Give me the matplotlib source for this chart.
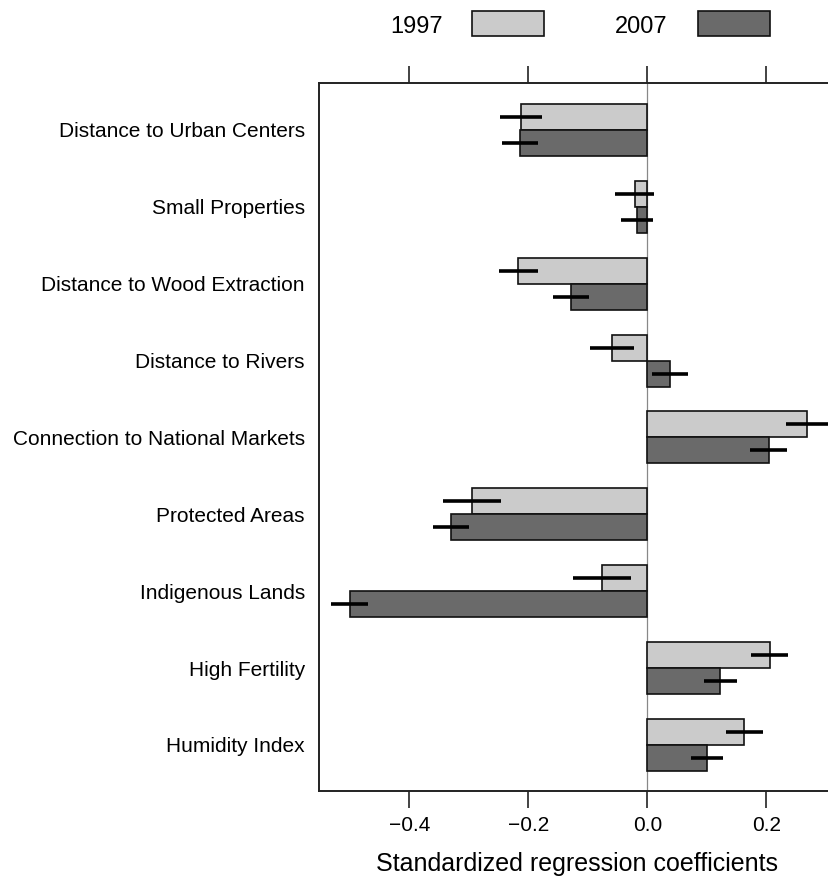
import numpy as np
import matplotlib
matplotlib.use('Agg')
import matplotlib.pyplot as plt
from matplotlib.patches import Rectangle

plt.rcParams['font.family'] = ['Liberation Sans', 'DejaVu Sans']

variables = ['Distance to Urban Centers', 'Small Properties', 'Distance to Wood Extraction',
             'Distance to Rivers', 'Connection to National Markets', 'Protected Areas',
             'Indigenous Lands', 'High Fertility', 'Humidity Index']
coef_1997 = [-0.212, -0.021, -0.217, -0.060, 0.268, -0.295, -0.076, 0.206, 0.163]
err_1997 = [0.035, 0.033, 0.033, 0.037, 0.035, 0.049, 0.049, 0.031, 0.031]
coef_2007 = [-0.214, -0.017, -0.128, 0.038, 0.204, -0.330, -0.500, 0.123, 0.101]
err_2007 = [0.031, 0.027, 0.030, 0.030, 0.031, 0.031, 0.031, 0.027, 0.027]

light = '#cbcbcb'
dark = '#6a6a6a'
W, H = 829, 876

fig = plt.figure(figsize=(W / 100, H / 100), dpi=100)
ax = fig.add_axes([318.7 / W, 1 - 791 / H, (835 - 318.7) / W, (791 - 83) / H])

y = np.arange(len(variables))
h = 0.338
ax.barh(y - h / 2, coef_1997, height=h, color=light, edgecolor='#111111', linewidth=1.2, zorder=2)
ax.barh(y + h / 2, coef_2007, height=h, color=dark, edgecolor='#111111', linewidth=1.2, zorder=2)
ax.errorbar(coef_1997, y - h / 2, xerr=err_1997, fmt='none', ecolor='black', elinewidth=2.6, capsize=0, zorder=3)
ax.errorbar(coef_2007, y + h / 2, xerr=err_2007, fmt='none', ecolor='black', elinewidth=2.6, capsize=0, zorder=3)
ax.axvline(0, color='#888888', linewidth=0.9, zorder=1)

ax.set_xlim(-0.5523, 0.3155)
ax.set_ylim(8.6, -0.611)
ax.set_yticks(y)
ax.set_yticklabels(variables, fontsize=15)
ax.tick_params(axis='y', length=0, pad=10)
ax.set_xticks([-0.4, -0.2, 0.0, 0.2])
ax.set_xticklabels(['\u22120.4', '\u22120.2', '0.0', '0.2'], fontsize=15)
ax.tick_params(axis='x', top=True, labeltop=False, length=12, width=1.2, direction='out',
               color='#222222', pad=6)
for s in ax.spines.values():
    s.set_color('#222222')
    s.set_linewidth(1.4)
ax.set_xlabel('Standardized regression coefficients', fontsize=18, labelpad=12)

# legend across the top
fig.text(443 / W, 1 - 27 / H, '1997', fontsize=17, ha='right', va='center')
fig.patches.append(Rectangle((472 / W, 1 - 36 / H), 72 / W, 25 / H, transform=fig.transFigure,
                             facecolor=light, edgecolor='#111111', linewidth=1.2))
fig.text(668 / W, 1 - 27 / H, '2007', fontsize=17, ha='right', va='center')
fig.patches.append(Rectangle((698 / W, 1 - 36 / H), 72 / W, 25 / H, transform=fig.transFigure,
                             facecolor=dark, edgecolor='#111111', linewidth=1.2))

fig.savefig('out.png', dpi=100)
